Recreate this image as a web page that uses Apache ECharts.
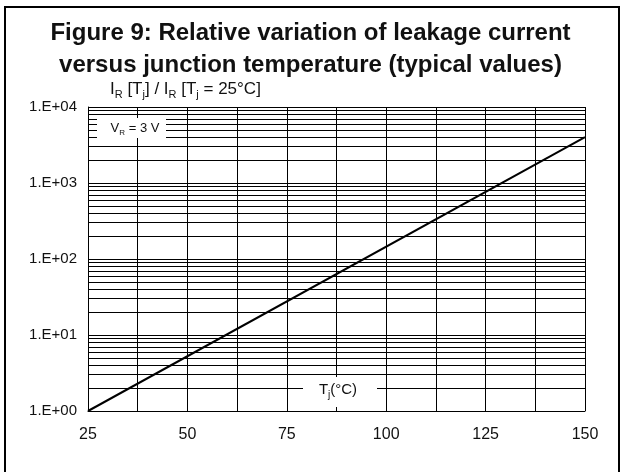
<!DOCTYPE html>
<html>
<head>
<meta charset="utf-8">
<script src="https://cdn.jsdelivr.net/npm/echarts/dist/echarts.min.js"></script>
<style>
  html, body { margin: 0; padding: 0; background: #fff; }
  #chart { width: 621px; height: 472px; }
</style>
</head>
<body>
<div id="chart"></div>
<script>
// Junction temperature (°C) against relative leakage current IR[Tj] / IR[Tj = 25°C]
const tempC = [25, 150];
const leakageRatio = [1, 4000];

// Labelled temperature ticks (grid lines fall every 12.5 °C)
const xTickLabels = [25, 50, 75, 100, 125, 150];
// Decade labels on the logarithmic axis
const decadeLabels = ['1.E+00', '1.E+01', '1.E+02', '1.E+03', '1.E+04'];

// Intermediate log grid lines: 2..9 within each decade
const minorGrid = [];
for (let d = 1; d <= 1000; d *= 10) {
  for (let m = 2; m <= 9; m++) minorGrid.push(m * d);
}

const FONT = 'Liberation Sans, Arial, Helvetica, sans-serif';
const INK = '#111';

const chart = echarts.init(document.getElementById('chart'), null, { renderer: 'canvas' });

chart.setOption({
  animation: false,
  backgroundColor: '#fff',
  title: {
    text: 'Figure 9: Relative variation of leakage current\nversus junction temperature (typical values)',
    left: 'center',
    top: 12,
    textStyle: {
      fontFamily: FONT,
      fontSize: 24,
      fontWeight: 'bold',
      color: INK,
      lineHeight: 32
    }
  },
  grid: { left: 88, top: 107, width: 497, height: 304 },
  xAxis: {
    type: 'value',
    min: 25,
    max: 150,
    interval: 12.5,
    axisLine: { show: true, lineStyle: { color: '#000', width: 1 } },
    axisTick: { show: false },
    axisLabel: {
      margin: 16,
      fontFamily: FONT,
      fontSize: 16,
      color: INK,
      formatter: v => (xTickLabels.includes(v) ? String(v) : '')
    },
    splitLine: { show: true, lineStyle: { color: '#000', width: 1 } }
  },
  yAxis: {
    type: 'log',
    logBase: 10,
    min: 1,
    max: 10000,
    axisLine: { show: true, lineStyle: { color: '#000', width: 1 } },
    axisTick: { show: false },
    axisLabel: {
      margin: 11,
      fontFamily: FONT,
      fontSize: 15,
      color: INK,
      formatter: v => decadeLabels[Math.round(Math.log10(v))]
    },
    splitLine: { show: true, lineStyle: { color: '#000', width: 1 } }
  },
  series: [{
    type: 'line',
    data: tempC.map((t, i) => [t, leakageRatio[i]]),
    showSymbol: false,
    lineStyle: { color: '#000', width: 2 },
    z: 5,
    markLine: {
      silent: true,
      symbol: ['none', 'none'],
      label: { show: false },
      lineStyle: { color: '#000', width: 1, type: 'solid' },
      emphasis: { disabled: true },
      data: minorGrid.map(v => ({ yAxis: v }))
    }
  }],
  graphic: [
    // page frame
    {
      type: 'polyline',
      z: 100,
      shape: { points: [[5, 472], [5, 7], [619, 7], [619, 472]] },
      style: { stroke: '#000', lineWidth: 2, fill: null }
    },
    // vertical axis title
    {
      type: 'text',
      z: 100,
      x: 110,
      y: 89,
      style: {
        text: 'I{s|R} [T{s|j}] / I{s|R} [T{s|j} = 25°C]',
        fontFamily: FONT,
        fontSize: 17,
        fill: INK,
        verticalAlign: 'middle',
        rich: {
          s: { fontFamily: FONT, fontSize: 11, fill: INK, verticalAlign: 'bottom', lineHeight: 22 }
        }
      }
    },
    // bias condition label box
    {
      type: 'group',
      z: 100,
      children: [
        { type: 'rect', z: 100, shape: { x: 97, y: 118, width: 69, height: 20 }, style: { fill: '#fff' } },
        {
          type: 'text', z: 101, x: 135, y: 128,
          style: {
            text: 'V{s|R} = 3 V',
            fontFamily: FONT, fontSize: 13, fill: INK,
            align: 'center', verticalAlign: 'middle',
            rich: { s: { fontFamily: FONT, fontSize: 8, fill: INK, verticalAlign: 'bottom', lineHeight: 17 } }
          }
        }
      ]
    },
    // horizontal axis title box
    {
      type: 'group',
      z: 100,
      children: [
        { type: 'rect', z: 100, shape: { x: 303, y: 377, width: 74, height: 30 }, style: { fill: '#fff' } },
        {
          type: 'text', z: 101, x: 338, y: 390,
          style: {
            text: 'T{s|j}(°C)',
            fontFamily: FONT, fontSize: 15, fill: INK,
            align: 'center', verticalAlign: 'middle',
            rich: { s: { fontFamily: FONT, fontSize: 10, fill: INK, verticalAlign: 'bottom', lineHeight: 21 } }
          }
        }
      ]
    }
  ]
});
</script>
</body>
</html>
